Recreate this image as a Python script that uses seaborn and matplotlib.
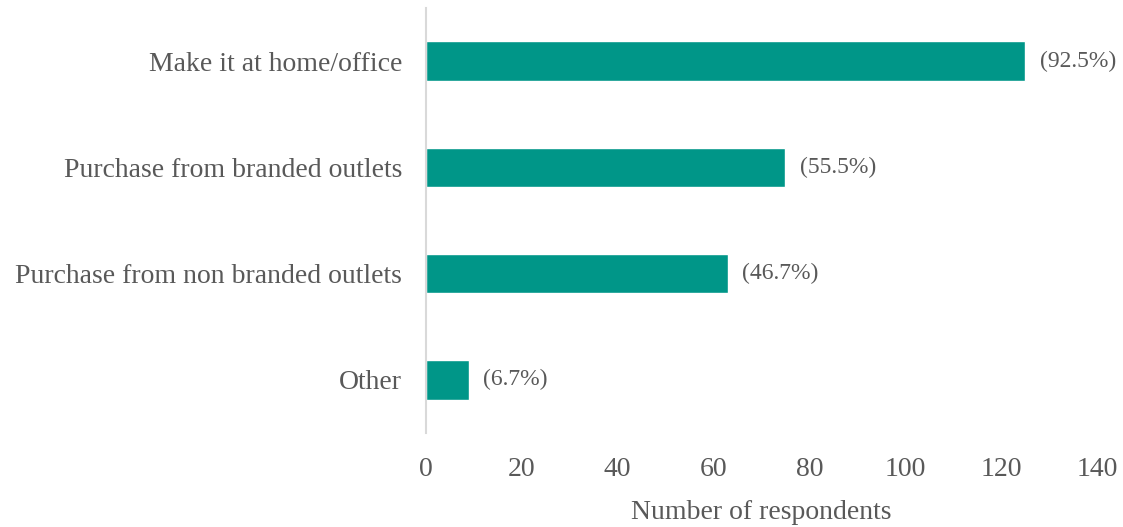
import matplotlib
matplotlib.use("Agg")
import matplotlib.pyplot as plt
import seaborn as sns
import pandas as pd

categories = ["Make it at home/office", "Purchase from branded outlets",
              "Purchase from non branded outlets", "Other"]
respondents = [125, 75, 63, 9]
percent_labels = ["(92.5%)", "(55.5%)", "(46.7%)", "(6.7%)"]
x_ticks = [0, 20, 40, 60, 80, 100, 120, 140]

sns.set_theme(style="white")
plt.rcParams["font.family"] = ["Liberation Serif", "DejaVu Serif"]

TEXT = "#595959"
BAR = "#009688"

df = pd.DataFrame({"category": categories, "n": respondents})

fig = plt.figure(figsize=(11.23, 5.27), dpi=100)
ax = fig.add_axes([0.3793, 0.1784, 0.5976, 0.8064])

sns.barplot(data=df, x="n", y="category", color=BAR, width=0.37,
            saturation=1, ax=ax, orient="h")

for i, (v, lab) in enumerate(zip(respondents, percent_labels)):
    ax.text(v + 3, i, lab, va="center", ha="left", fontsize=17, color=TEXT)

ax.set_xlim(0, 140)
ax.set_ylim(3.5, -0.5)
ax.set_xticks(x_ticks)
ax.set_xticklabels([str(t) for t in x_ticks])
ax.tick_params(axis="x", labelsize=20, colors=TEXT, length=0, pad=17)
ax.tick_params(axis="y", labelsize=20, colors=TEXT, length=0, pad=17)
ax.set_ylabel("")
ax.set_xlabel("Number of respondents", fontsize=20, color=TEXT, labelpad=13)

for s in ["top", "right", "bottom"]:
    ax.spines[s].set_visible(False)
ax.spines["left"].set_color("#d9d9d9")
ax.spines["left"].set_linewidth(1.5)
ax.grid(False)

fig.savefig("out.png", dpi=100)
